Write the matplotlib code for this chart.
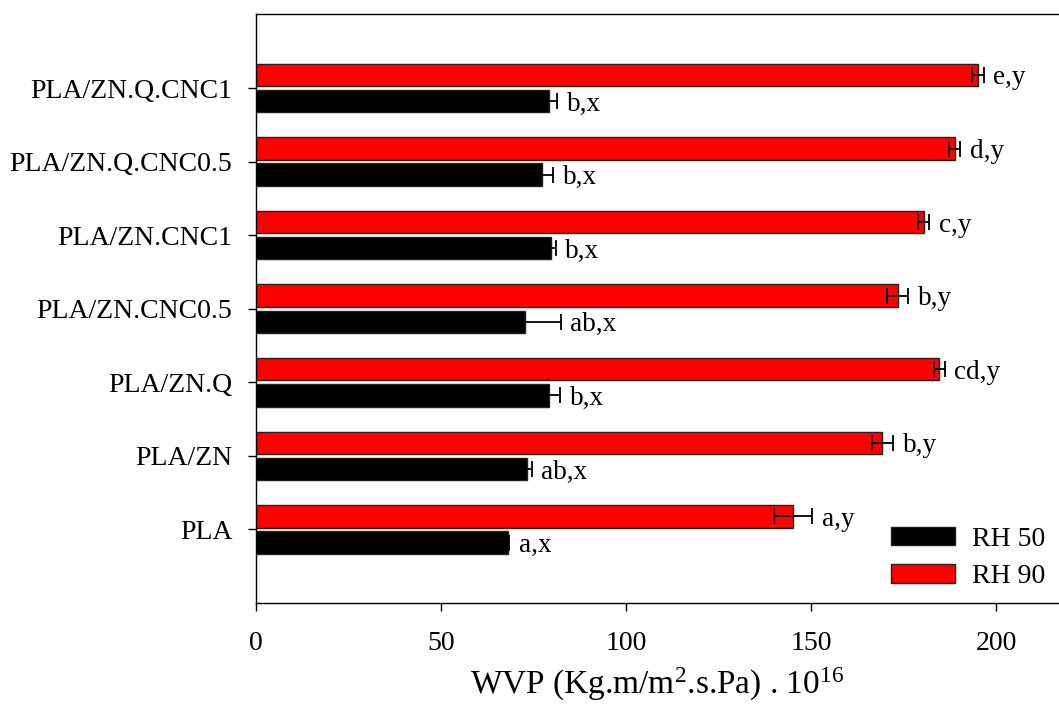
import matplotlib
matplotlib.use("Agg")
import matplotlib.pyplot as plt
import numpy as np

plt.rcParams["font.family"] = ["Liberation Serif", "DejaVu Serif"]
plt.rcParams["mathtext.fontset"] = "custom"
plt.rcParams["mathtext.rm"] = "Liberation Serif"
plt.rcParams["mathtext.it"] = "Liberation Serif:italic"

# films, bottom to top
films = ["PLA", "PLA/ZN", "PLA/ZN.Q", "PLA/ZN.CNC0.5", "PLA/ZN.CNC1",
         "PLA/ZN.Q.CNC0.5", "PLA/ZN.Q.CNC1"]

# water vapour permeability (x 1e16) at 50 % and 90 % relative humidity
rh50 = [68.1, 73.3, 79.2, 72.6, 79.8, 77.2, 79.2]
rh50_err = [0.3, 1.2, 2.9, 9.7, 1.2, 3.0, 2.2]
rh90 = [145.2, 169.3, 184.6, 173.4, 180.5, 188.8, 195.1]
rh90_err = [5.1, 2.85, 1.5, 2.9, 1.5, 1.4, 1.5]

# significance letters
rh50_sig = ["a,x", "ab,x", "b,x", "ab,x", "b,x", "b,x", "b,x"]
rh90_sig = ["a,y", "b,y", "cd,y", "b,y", "c,y", "d,y", "e,y"]


def main():
    fig = plt.figure(figsize=(10.59, 7.06), dpi=100)
    ax = fig.add_axes([0.2417, 0.1459, 0.7583, 0.8336])

    y = np.arange(len(films))
    h = 0.305
    off = 0.178

    ax.barh(y - off, rh50, height=h, color="black", edgecolor="#222222",
            linewidth=1, label="RH 50")
    ax.barh(y + off, rh90, height=h, color="#ff0000", edgecolor="#222222",
            linewidth=1, label="RH 90")
    ax.errorbar(rh50, y - off, xerr=rh50_err, fmt="none", ecolor="black",
                elinewidth=1.3, capsize=5.5, capthick=1.3)
    ax.errorbar(rh90, y + off, xerr=rh90_err, fmt="none", ecolor="black",
                elinewidth=1.3, capsize=5.5, capthick=1.3)

    for i in range(len(films)):
        ax.annotate(rh50_sig[i], (rh50[i] + rh50_err[i], y[i] - off),
                    xytext=(7, 0), textcoords="offset points",
                    va="center_baseline", ha="left", fontsize=19.5)
        ax.annotate(rh90_sig[i], (rh90[i] + rh90_err[i], y[i] + off),
                    xytext=(7, 0), textcoords="offset points",
                    va="center_baseline", ha="left", fontsize=19.5)

    ax.set_xlim(0, 217)
    ax.set_ylim(-1, 7)
    ax.set_yticks(y)
    ax.set_yticklabels(films)
    ax.set_xticks([0, 50, 100, 150, 200])
    ax.tick_params(axis="x", direction="out", length=6, width=1,
                   pad=14, labelsize=20)
    ax.tick_params(axis="y", direction="out", length=6, width=1,
                   pad=11, labelsize=20)
    ax.spines["right"].set_visible(False)
    for s in ["left", "top", "bottom"]:
        ax.spines[s].set_linewidth(1)

    ax.set_xlabel(r"WVP (Kg.m/m$^{2}$.s.Pa) . 10$^{16}$", fontsize=24,
                  labelpad=7)

    ax.legend(loc="lower right", bbox_to_anchor=(1.0, 0.0), frameon=False,
              fontsize=20, handlelength=2.3, handleheight=0.65,
              labelspacing=0.45, handletextpad=0.6, borderaxespad=0.1)

    fig.savefig("out.png", dpi=100)


if __name__ == "__main__":
    main()
